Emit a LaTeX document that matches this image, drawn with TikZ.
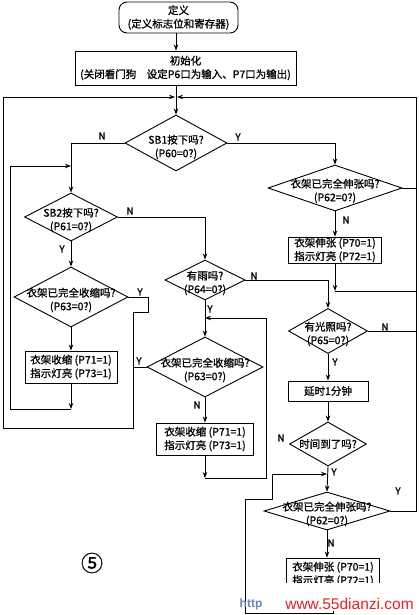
\documentclass[tikz,border=0pt]{standalone}
\usepackage{fontspec}
\setmainfont{Noto Sans CJK SC}[FakeBold=0.7]
\newfontfamily\boldcjk{Noto Sans CJK SC}[FakeBold=1.2]
\newfontfamily\wmfont{Liberation Sans}
\usetikzlibrary{arrows.meta,shapes.geometric}
\definecolor{wmred}{RGB}{225,35,35}
\definecolor{wmblue}{RGB}{110,130,185}
\begin{document}
\begin{tikzpicture}[x=1pt,y=-1pt,
  line/.style={line width=0.9pt},
  arr/.style={line width=0.9pt,-{Stealth[length=6pt,width=4.5pt]}},
  dia/.style n args={2}{draw,line width=0.9pt,shape=diamond,inner sep=0pt,minimum width=#1,minimum height=#2},
  box/.style n args={2}{draw,line width=0.9pt,rectangle,inner sep=0pt,minimum width=#1,minimum height=#2},
  txt/.style={font=\boldcjk\fontsize{10.5}{13.5}\selectfont,align=center,inner sep=0pt},
  lab/.style={font=\boldcjk\fontsize{10}{12}\selectfont,inner sep=0pt}]
\useasboundingbox (0,0) rectangle (418,615);
\fill[white] (0,0) rectangle (418,615);

% nodes
\node[box={119}{31},rounded corners=8pt,txt] (def) at (178.5,17.5) {定义\\(定义标志位和寄存器)};
\node[box={221}{34},txt] (init) at (185.5,68) {初始化\\(关闭看门狗\quad 设定P6口为输入、P7口为输出)};
\coordinate (merge) at (176,97);
\coordinate (lt) at (3,97);
\coordinate (rt) at (416,97);

\node[dia={102}{56}] (sb1) at (176,143) {};
\node[txt] (sb1t) at (176,147) {SB1按下吗?\\(P60=0?)};

\node[dia={134}{46}] (ext1) at (335,188) {};
\node[txt] (ext1t) at (335,191) {衣架已完全伸张吗?\\(P62=0?)};
\node[box={93}{26},txt] (extbox1) at (335,250) {衣架伸张 (P70=1)\\指示灯亮 (P72=1)};

\node[dia={93}{48}] (sb2) at (71,217) {};
\node[txt] (sb2t) at (71,220) {SB2按下吗?\\(P61=0?)};

\node[dia={114}{60}] (shr1) at (71,297) {};
\node[txt] (shr1t) at (71,300) {衣架已完全收缩吗?\\(P63=0?)};
\node[box={92}{32},txt] (shrbox1) at (71,367) {衣架收缩 (P71=1)\\指示灯亮 (P73=1)};

\node[dia={80}{40}] (rain) at (205,280) {};
\node[txt] (raint) at (205,283) {有雨吗?\\(P64=0?)};

\node[dia={116}{60}] (shr2) at (205,367) {};
\node[txt] (shr2t) at (205,370) {衣架已完全收缩吗?\\(P63=0?)};
\node[box={97}{32},txt] (shrbox2) at (205,439) {衣架收缩 (P71=1)\\指示灯亮 (P73=1)};

\node[dia={79}{45}] (light) at (328,331) {};
\node[txt] (lightt) at (328,334) {有光照吗?\\(P65=0?)};
\node[box={80}{20},txt] (delay) at (328,391) {延时1分钟};
\node[dia={77}{44}] (time) at (328,444) {};
\node[txt] (timet) at (328,444) {时间到了吗?};

\node[dia={126}{38}] (ext2) at (327,511) {};
\node[txt] (ext2t) at (327,514) {衣架已完全伸张吗?\\(P62=0?)};
\node[box={93}{32},txt] (extbox2) at (333,574) {衣架伸张 (P70=1)\\指示灯亮 (P72=1)};

% connectors
\draw[arr] (def.south -| sb1.north) -- (init.north -| sb1.north);
\draw[arr] (init.south -| sb1.north) -- (sb1.north);
\draw[arr] (sb1.west) -| (sb2.north);
\draw[arr] (sb1.east) -| (ext1.north);
\draw[line] (ext1.east) -- (ext1.east -| rt);
\draw[arr] (ext1.south) -- (extbox1.north);
\coordinate (e1c) at (335,291);
\draw[arr] (extbox1.south) -- (e1c);
\draw[line] (e1c) -- (e1c -| rt);

\draw[arr] (sb2.east) -| (rain.north);
\draw[arr] (sb2.south) -- (shr1.north);
\draw[arr,shorten >=1pt] (shr1.east) -- (148,297) -- (148,312) -- (133,312) -- (133,428) -- (3,428) -- (lt) -- (merge);
\draw[arr] (shr1.south) -- (shrbox1.north);
\coordinate (l1b) at (71,409);
\coordinate (l1t) at (71,166);
\draw[arr] (shrbox1.south) -- (l1b);
\draw[arr] (l1b) -- (10,409) -- (10,166) -- (l1t);

\draw[arr] (rain.east) -| (light.north);
\draw[arr] (rain.south) -- (shr2.north);
\draw[line] (shr2.west) -- (133,367);
\draw[arr] (shr2.south) -- (shrbox2.north);
\coordinate (m1b) at (205,478);
\coordinate (m1t) at (205,318);
\draw[arr] (shrbox2.south) -- (m1b);
\draw[arr] (m1b) -- (266,478) -- (266,318) -- (m1t);

\draw[line] (light.east) -- (light.east -| rt);
\draw[arr] (light.south) -- (delay.north);
\draw[arr] (delay.south) -- (time.north);
\draw[arr] (time.south) -- (ext2.north);
\draw[arr,shorten >=1pt] (ext2.east) -- (ext2.east -| rt) -- (rt) -- (merge);
\draw[arr] (ext2.south) -- (ext2.south |- extbox2.north);
\coordinate (e2t) at (327,474);
\draw[arr] (extbox2.south) -- (333,613) -- (245,613) -- (245,499) -- (272,499) -- (272,474) -- (e2t);

% Y/N labels
\node[lab] (l1) at (102,136) {N};
\node[lab] (l2) at (238,137) {Y};
\node[lab] (l3) at (346,220) {N};
\node[lab] (l4) at (130,211) {N};
\node[lab] (l5) at (62,249) {Y};
\node[lab] (l6) at (140,292) {Y};
\node[lab] (l7) at (139,361) {Y};
\node[lab] (l8) at (197,405) {N};
\node[lab] (l9) at (254,276) {N};
\node[lab] (l10) at (210,309) {Y};
\node[lab] (l11) at (385,327) {N};
\node[lab] (l12) at (335,362) {Y};
\node[lab] (l13) at (281,438) {N};
\node[lab] (l14) at (334,472) {Y};
\node[lab] (l15) at (398,491) {Y};
\node[lab] (l16) at (331,543) {N};

% circled number
\node[inner sep=0pt,font=\fontsize{22}{22}\selectfont] (five) at (92,563) {⑤};

% watermark
\fill[white] (262,583) rectangle (418,611);
\node[inner sep=0pt,text=wmblue,font=\wmfont\bfseries\fontsize{12}{12}\selectfont] (http) at (251,604) {http};
\node[inner sep=0pt,text=wmred,font=\wmfont\fontsize{15.5}{15.5}\selectfont] (wm) at (349.5,604) {www.55dianzi.com};
\end{tikzpicture}
\end{document}
